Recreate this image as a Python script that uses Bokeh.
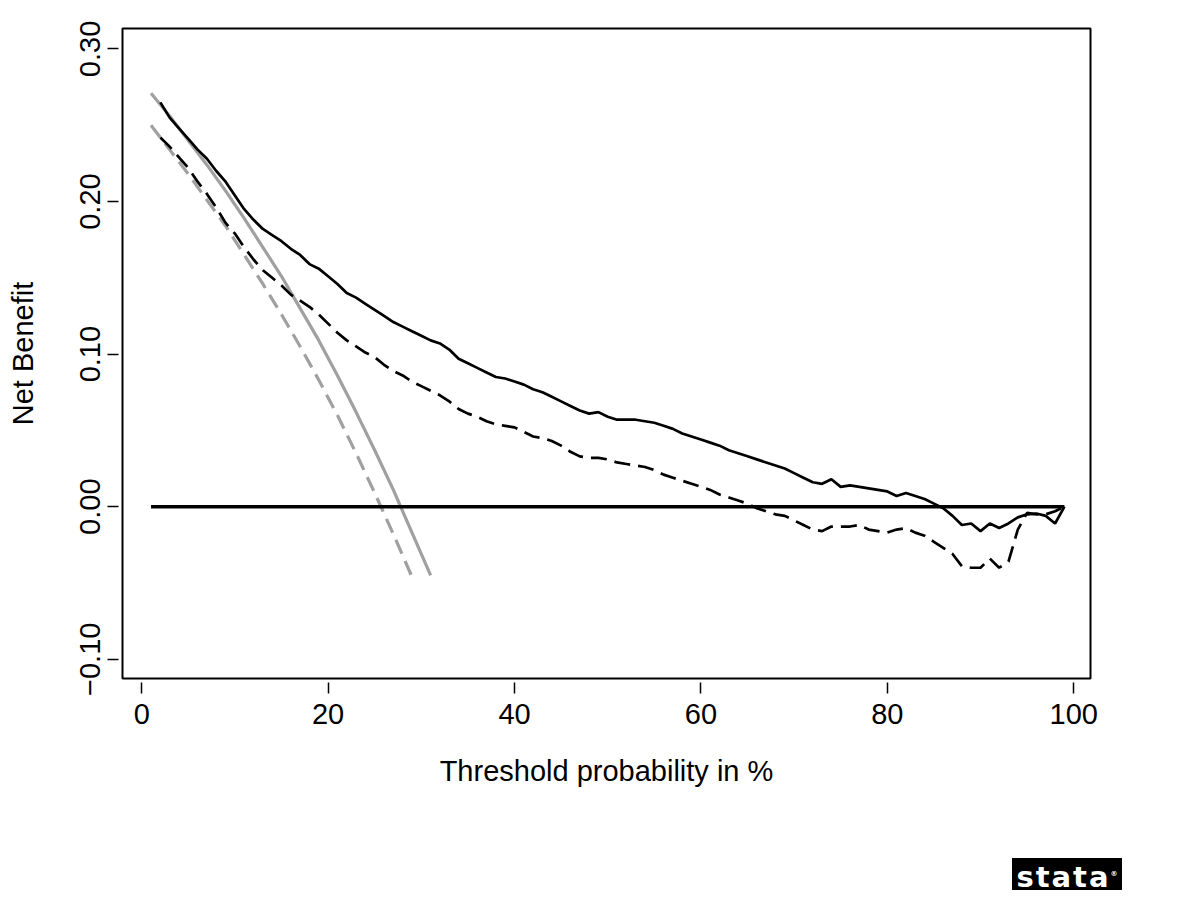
from bokeh.plotting import figure
from bokeh.models import Range1d, FixedTicker, CustomJSTickFormatter, Div
from bokeh.layouts import column
from bokeh.embed import file_html
from bokeh.resources import INLINE

# ---- data ----
threshold = list(range(2, 100))
nb_model_a = [
    0.265, 0.255, 0.248, 0.241, 0.234, 0.228, 0.220, 0.213, 0.204, 0.195,   # 2-11
    0.188, 0.182, 0.178, 0.174, 0.169, 0.165, 0.159, 0.156, 0.151, 0.146,   # 12-21
    0.140, 0.137, 0.133, 0.129, 0.125, 0.121, 0.118, 0.115, 0.112, 0.109,   # 22-31
    0.107, 0.103, 0.097, 0.094, 0.091, 0.088, 0.085, 0.084, 0.082, 0.080,   # 32-41
    0.077, 0.075, 0.072, 0.069, 0.066, 0.063, 0.061, 0.062, 0.059, 0.057,   # 42-51
    0.057, 0.057, 0.056, 0.055, 0.053, 0.051, 0.048, 0.046, 0.044, 0.042,   # 52-61
    0.040, 0.037, 0.035, 0.033, 0.031, 0.029, 0.027, 0.025, 0.022, 0.019,   # 62-71
    0.016, 0.015, 0.018, 0.013, 0.014, 0.013, 0.012, 0.011, 0.010, 0.007,   # 72-81
    0.009, 0.007, 0.005, 0.002, -0.001, -0.006, -0.012, -0.011, -0.016, -0.011,  # 82-91
    -0.014, -0.011, -0.007, -0.005, -0.0045, -0.006, -0.011, 0.000,         # 92-99
]
nb_model_b = [
    0.242, 0.236, 0.229, 0.222, 0.213, 0.205, 0.196, 0.186, 0.179, 0.170,   # 2-11
    0.162, 0.155, 0.150, 0.145, 0.139, 0.135, 0.131, 0.126, 0.120, 0.114,   # 12-21
    0.109, 0.105, 0.101, 0.098, 0.093, 0.089, 0.086, 0.082, 0.079, 0.076,   # 22-31
    0.073, 0.069, 0.064, 0.061, 0.059, 0.056, 0.054, 0.053, 0.052, 0.049,   # 32-41
    0.046, 0.045, 0.043, 0.040, 0.036, 0.033, 0.032, 0.032, 0.031, 0.029,   # 42-51
    0.028, 0.027, 0.026, 0.024, 0.021, 0.019, 0.017, 0.015, 0.013, 0.011,   # 52-61
    0.008, 0.006, 0.004, 0.002, -0.001, -0.003, -0.005, -0.006, -0.009, -0.012,  # 62-71
    -0.015, -0.016, -0.013, -0.013, -0.013, -0.012, -0.015, -0.016, -0.017, -0.015,  # 72-81
    -0.014, -0.017, -0.019, -0.023, -0.027, -0.031, -0.039, -0.040, -0.040, -0.034,  # 82-91
    -0.040, -0.036, -0.015, -0.004, -0.005, -0.005, -0.003, 0.000,          # 92-99
]

all_a_x = [1, 3, 5, 7, 9, 11, 13, 15, 17, 19, 21, 23, 25, 27, 29, 31]
nb_all_a = [0.271, 0.256, 0.240, 0.224, 0.207, 0.189, 0.170, 0.151,
            0.130, 0.109, 0.086, 0.062, 0.037, 0.011, -0.017, -0.045]
all_b_x = [1, 3, 5, 7, 9, 11, 13, 15, 17, 19, 21, 23, 25, 27, 29]
nb_all_b = [0.250, 0.234, 0.218, 0.201, 0.184, 0.165, 0.146, 0.126,
            0.105, 0.083, 0.060, 0.035, 0.009, -0.018, -0.046]

none_x = [1, 99]
none_y = [0.0, 0.0]

x_ticks = [0, 20, 40, 60, 80, 100]
y_ticks = [-0.1, 0.0, 0.1, 0.2, 0.3]

FONT = "Liberation Sans"
GRAY = "#a0a0a0"

p = figure(width=1192, height=800, output_backend="svg", toolbar_location=None,
           x_range=Range1d(-2.06, 101.8), y_range=Range1d(-0.1126, 0.3134),
           min_border_left=122, min_border_right=102, min_border_top=28,
           min_border_bottom=122)

p.background_fill_color = "white"
p.border_fill_color = "white"
p.outline_line_color = "black"
p.outline_line_width = 2
p.xgrid.visible = False
p.ygrid.visible = False

# gray "treat all" curves
p.line(all_a_x, nb_all_a, line_color=GRAY, line_width=3.2)
p.line(all_b_x, nb_all_b, line_color=GRAY, line_width=3.2, line_dash="15 8")
# treat none
p.line(none_x, none_y, line_color="black", line_width=3.5)
# models
p.line(threshold, nb_model_a, line_color="black", line_width=2.7)
p.line(threshold, nb_model_b, line_color="black", line_width=2.7, line_dash="16 8")

for ax in (p.xaxis[0], p.yaxis[0]):
    ax.axis_line_color = None
    ax.major_tick_line_color = "black"
    ax.major_tick_line_width = 1.5
    ax.major_tick_in = -4
    ax.major_tick_out = 15
    ax.minor_tick_line_color = None
    ax.major_label_text_font = FONT
    ax.major_label_text_font_size = "29px"
    ax.major_label_text_color = "black"
    ax.axis_label_text_font = FONT
    ax.axis_label_text_font_size = "29px"
    ax.axis_label_text_font_style = "normal"
    ax.axis_label_text_color = "black"

p.xaxis.ticker = FixedTicker(ticks=x_ticks)
p.yaxis.ticker = FixedTicker(ticks=y_ticks)
p.yaxis.formatter = CustomJSTickFormatter(
    code='return (tick < -1e-9 ? "\\u2212" : "") + Math.abs(tick).toFixed(2);')
p.yaxis.major_label_orientation = "vertical"
p.xaxis.axis_label = "Threshold probability in %"
p.yaxis.axis_label = "Net Benefit"
p.xaxis.major_label_standoff = 10
p.yaxis.major_label_standoff = 7
p.xaxis.axis_label_standoff = 28
p.yaxis.axis_label_standoff = 39

logo = Div(
    text=('<div style="background:#000;color:#fff;width:110px;height:32px;'
          'font-family:\'DejaVu Sans\';font-weight:bold;'
          'font-size:29px;line-height:32px;text-align:center;'
          'letter-spacing:2px;">stata<sup style="font-size:7px;letter-spacing:0;">&reg;</sup></div>'),
    width=110, height=32, margin=(58, 0, 0, 1012))

layout = column(p, logo, spacing=0)

open("out.html", "w").write(file_html(layout, INLINE))
